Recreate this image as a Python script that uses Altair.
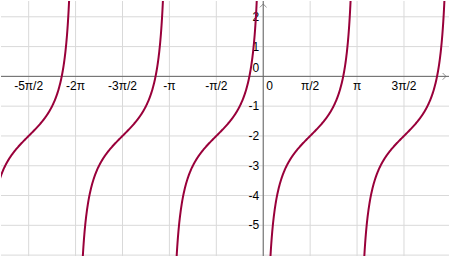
import numpy as np
import pandas as pd
import altair as alt

# View window (data units)
X_MIN, X_MAX = -8.78, 6.22
Y_MIN, Y_MAX = -6.03, 2.53

# Tick positions / labels
x_ticks = [-5*np.pi/2, -2*np.pi, -3*np.pi/2, -np.pi, -np.pi/2, 0, np.pi/2, np.pi, 3*np.pi/2]
x_labels = ["-5π/2", "-2π", "-3π/2", "-π", "-π/2", "0", "π/2", "π", "3π/2"]
x_grid = [k*np.pi/2 for k in range(-5, 4)]
y_ticks = [2, 1, -1, -2, -3, -4, -5]
y_labels = ["2", "1", "-1", "-2", "-3", "-4", "-5"]
y_grid = [2, 1, 0, -1, -2, -3, -4, -5, -6]

# Function plotted: y = -cot(x) - 2, branches between asymptotes at kπ
def f(x):
    return -1.0/np.tan(x) - 2.0

rows = []
for k in range(-3, 2):
    xs = np.linspace(k*np.pi + 0.04, (k+1)*np.pi - 0.04, 400)
    for xv in xs:
        if X_MIN - 0.1 <= xv <= X_MAX + 0.1:
            rows.append({"x": xv, "y": f(xv), "branch": k})
curve = pd.DataFrame(rows)

xs = alt.Scale(domain=[X_MIN, X_MAX], nice=False, zero=False)
ys = alt.Scale(domain=[Y_MIN, Y_MAX], nice=False, zero=False)
X = lambda f: alt.X(f, type="quantitative", scale=xs, axis=None)
Y = lambda f: alt.Y(f, type="quantitative", scale=ys, axis=None)

grid_col = "#d9d9d9"
axis_col = "#666666"

vgrid = alt.Chart(pd.DataFrame({"x": x_grid})).mark_rule(color=grid_col, strokeWidth=1).encode(x=X("x"))
hgrid = alt.Chart(pd.DataFrame({"y": y_grid})).mark_rule(color=grid_col, strokeWidth=1).encode(y=Y("y"))

xaxis = alt.Chart(pd.DataFrame({"y": [0]})).mark_rule(color=axis_col, strokeWidth=1).encode(y=Y("y"))
yaxis = alt.Chart(pd.DataFrame({"x": [0]})).mark_rule(color=axis_col, strokeWidth=1).encode(x=X("x"))

arrow_up = alt.Chart(pd.DataFrame({"x": [0], "y": [Y_MAX]})).mark_point(
    shape="M-1,1L0,0L1,1", size=45, filled=False, color=axis_col, strokeWidth=1, yOffset=3
).encode(x=X("x"), y=Y("y"))
arrow_right = alt.Chart(pd.DataFrame({"x": [X_MAX], "y": [0]})).mark_point(
    shape="M-1,-1L0,0L-1,1", size=45, filled=False, color=axis_col, strokeWidth=1, xOffset=-3
).encode(x=X("x"), y=Y("y"))

xlab_df = pd.DataFrame({"x": x_ticks, "y": [0]*len(x_ticks), "t": x_labels})
xlab = alt.Chart(xlab_df[xlab_df.t != "0"]).mark_text(
    font="Liberation Sans", fontSize=12, color="black", baseline="top", dy=5
).encode(x=X("x"), y=Y("y"), text="t:N")
zero_x = alt.Chart(pd.DataFrame({"x": [0], "y": [0], "t": ["0"]})).mark_text(
    font="Liberation Sans", fontSize=12, color="black", baseline="top", align="left", dx=3, dy=5
).encode(x=X("x"), y=Y("y"), text="t:N")
zero_y = alt.Chart(pd.DataFrame({"x": [0], "y": [0], "t": ["0"]})).mark_text(
    font="Liberation Sans", fontSize=12, color="black", baseline="bottom", align="right", dx=-4, dy=-1
).encode(x=X("x"), y=Y("y"), text="t:N")
ylab = alt.Chart(pd.DataFrame({"x": [0]*len(y_ticks), "y": y_ticks, "t": y_labels})).mark_text(
    font="Liberation Sans", fontSize=12, color="black", baseline="middle", align="right", dx=-4
).encode(x=X("x"), y=Y("y"), text="t:N")

line = alt.Chart(curve).mark_line(color="#99003a", strokeWidth=2, clip=True).encode(
    x=X("x"), y=Y("y"), detail="branch:N", order="x:Q"
)

chart = alt.layer(vgrid, hgrid, xaxis, yaxis, arrow_up, arrow_right, xlab, zero_x, zero_y, ylab, line).properties(
    width=450, height=257,
    autosize=alt.AutoSizeParams(type="fit", contains="padding"),
    padding=0,
    background="white",
).configure_view(stroke=None)

chart.save("out.html", embed_options={"renderer": "svg", "actions": False})
